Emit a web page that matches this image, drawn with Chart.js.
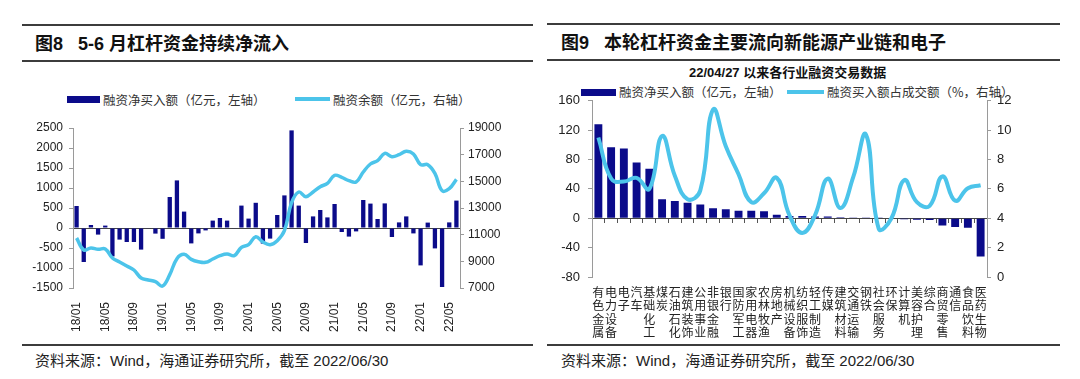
<!DOCTYPE html>
<html><head><meta charset="utf-8">
<script src="https://cdn.jsdelivr.net/npm/chart.js@4.4.1/dist/chart.umd.min.js"></script>
<style>
body{margin:0;width:1080px;height:379px;background:#fff;position:relative;overflow:hidden;font-family:"Liberation Sans","Noto Sans CJK SC",sans-serif;}
.hr{position:absolute;height:2px;background:#3c3c3c;}
.title{position:absolute;font-size:18px;line-height:18px;font-weight:bold;color:#111;white-space:nowrap;font-family:"Liberation Sans","Noto Sans CJK SC",sans-serif;}
.leg{position:absolute;font-size:12.5px;line-height:14px;color:#333;white-space:nowrap;font-family:"Noto Sans CJK SC",sans-serif;}
.sw{position:absolute;}
.src{position:absolute;font-size:15px;line-height:18px;color:#222;white-space:nowrap;font-family:"Liberation Sans","Noto Sans CJK SC",sans-serif;}
.sub{position:absolute;font-size:13px;line-height:16px;font-weight:bold;color:#111;white-space:nowrap;font-family:"Liberation Sans","Noto Sans CJK SC",sans-serif;}
canvas{position:absolute;}
</style></head>
<body>
<div class="hr" style="left:22px;width:511px;top:24px;"></div>
<div class="title" style="left:35px;top:35px;">图8&nbsp;&nbsp;&nbsp;5-6 月杠杆资金持续净流入</div>
<div class="hr" style="left:22px;width:511px;top:60px;"></div>
<div class="sw" style="left:67px;top:96px;width:33px;height:7px;background:#0b0b8a;"></div>
<div class="leg" style="left:103px;top:93px;">融资净买入额（亿元，左轴）</div>
<div class="sw" style="left:295px;top:97px;width:35px;height:4px;background:#4cc4ea;"></div>
<div class="leg" style="left:333px;top:93px;">融资余额（亿元，右轴）</div>
<div class="hr" style="left:22px;width:511px;top:344px;"></div>
<div class="src" style="left:35px;top:352px;">资料来源：Wind，海通证券研究所，截至 2022/06/30</div>

<div class="hr" style="left:547px;width:513px;top:23px;"></div>
<div class="title" style="left:561px;top:34px;">图9&nbsp;&nbsp;&nbsp;本轮杠杆资金主要流向新能源产业链和电子</div>
<div class="hr" style="left:547px;width:513px;top:59px;"></div>
<div class="sub" style="left:689px;top:65px;">22/04/27 以来各行业融资交易数据</div>
<div class="sw" style="left:581px;top:89px;width:35px;height:7px;background:#0b0b8a;"></div>
<div class="leg" style="left:619px;top:85px;">融资净买入额（亿元，左轴）</div>
<div class="sw" style="left:787px;top:90px;width:37px;height:4px;background:#4cc4ea;"></div>
<div class="leg" style="left:827px;top:85px;">融资买入额占成交额（%，右轴）</div>
<div class="hr" style="left:547px;width:513px;top:344px;"></div>
<div class="src" style="left:561px;top:352px;">资料来源：Wind，海通证券研究所，截至 2022/06/30</div>

<canvas id="c1" width="540" height="240" style="left:0;top:110px;"></canvas>
<canvas id="c2" width="540" height="255" style="left:540px;top:85px;"></canvas>
<script>
// ---- Chart 1 data ----
const months = ['18/01','18/02','18/03','18/04','18/05','18/06','18/07','18/08','18/09','18/10','18/11','18/12',
 '19/01','19/02','19/03','19/04','19/05','19/06','19/07','19/08','19/09','19/10','19/11','19/12',
 '20/01','20/02','20/03','20/04','20/05','20/06','20/07','20/08','20/09','20/10','20/11','20/12',
 '21/01','21/02','21/03','21/04','21/05','21/06','21/07','21/08','21/09','21/10','21/11','21/12',
 '22/01','22/02','22/03','22/04','22/05','22/06'];
const netBuy = [550,-850,75,-165,60,-710,-290,-350,-350,-540,-15,-140,
 -270,775,1190,410,-385,-135,-60,185,250,185,-15,560,
 235,630,-390,-265,325,815,2440,560,-375,290,450,265,
 600,-100,-215,-85,700,610,225,615,-225,140,290,-135,
 -935,135,-510,-1475,140,685];
const balance = [10750,9850,10000,9900,9925,9250,8950,8650,8350,7750,7600,7475,
 7150,8000,9200,9525,9150,8975,8925,9175,9425,9550,9425,10050,
 10250,10850,10450,10250,10550,11300,13400,14200,13850,14200,14600,14850,
 15450,15300,15050,14950,15700,16300,16550,17100,16850,17000,17250,17050,
 16250,16250,15600,14300,14450,15150];

// ---- Chart 2 data ----
const industries = [['有','色','金','属'],['电','力','设','备'],['电','子'],['汽','车'],['基','础','化','工'],['煤','炭'],
 ['石','油','石','化'],['建','筑','装','饰'],['公','用','事','业'],['非','银','金','融'],['银','行'],['国','防','军','工'],
 ['家','用','电','器'],['农','林','牧','渔'],['房','地','产'],['机','械','设','备'],['纺','织','服','饰'],['轻','工','制','造'],
 ['传','媒'],['建','筑','材','料'],['交','通','运','输'],['钢','铁'],['社','会','服','务'],['环','保'],['计','算','机'],
 ['美','容','护','理'],['综','合'],['商','贸','零','售'],['通','信'],['食','品','饮','料'],['医','药','生','物']];
const netBuyInd = [128,96.6,95,76,67.5,26,23.6,21,18.6,13.6,12.2,10.4,10.4,9.5,4.8,3.2,3.2,2.3,2.3,1.5,1,0.5,0.2,-0.5,-1.2,-2,-2.5,-10,-12,-13,-52];
const buyRatio = [9.5,6.7,6.5,6.75,6.0,9.6,6.9,5.3,5.9,11.4,8.9,7.0,5.1,5.7,6.75,4.2,3.0,4.2,6.7,4.7,6.8,9.7,3.3,4.0,6.6,5.1,4.85,6.85,5.2,6.05,6.25];

const NAVY = '#0b0b8a', CYAN = '#4cc4ea', AX = '#9a9a9a';
const numFont = {family:'"Liberation Sans", Arial, sans-serif', size:12};
const plain = function(v){ return String(v); };

new Chart(document.getElementById('c1'), {
  type:'bar',
  data:{labels:months, datasets:[
    {type:'line', label:'融资余额（亿元，右轴）', data:balance, yAxisID:'y1', borderColor:CYAN, borderWidth:3.5,
     pointRadius:0, tension:0.4, order:0},
    {type:'bar', label:'融资净买入额（亿元，左轴）', data:netBuy, yAxisID:'y', backgroundColor:NAVY,
     barPercentage:0.6, categoryPercentage:1, order:1}
  ]},
  options:{responsive:false, animation:false, devicePixelRatio:1,
    layout:{padding:{top:18,left:0,right:0,bottom:0}},
    plugins:{legend:{display:false}, tooltip:{enabled:false}},
    scales:{
      x:{grid:{display:false}, border:{display:false},
         ticks:{autoSkip:false, minRotation:90, maxRotation:90, padding:6, font:numFont, color:'#222',
           callback:function(v,i){return i%4===0 ? this.getLabelForValue(v) : '';}},
         afterFit:function(s){s.height=62;}},
      x2:{axis:'x', position:{y:0}, grid:{display:true, drawOnChartArea:false, drawTicks:false},
          border:{display:true, color:'#444', width:1}, ticks:{display:false}},
      y:{position:'left', min:-1500, max:2500,
         ticks:{stepSize:500, font:numFont, color:'#222', padding:6, callback:plain},
         grid:{drawOnChartArea:false, tickLength:4, color:AX}, border:{color:AX},
         afterFit:function(s){s.width=73;}},
      y1:{position:'right', min:7000, max:19000,
         ticks:{stepSize:2000, font:numFont, color:'#222', padding:4, callback:plain},
         grid:{drawOnChartArea:false, tickLength:4, color:AX}, border:{color:AX},
         afterFit:function(s){s.width=80;}}
    }}
});

new Chart(document.getElementById('c2'), {
  type:'bar',
  data:{labels:industries, datasets:[
    {type:'line', label:'融资买入额占成交额（%，右轴）', data:buyRatio, yAxisID:'y1', borderColor:CYAN, borderWidth:4,
     pointRadius:0, tension:0.45, order:0},
    {type:'bar', label:'融资净买入额（亿元，左轴）', data:netBuyInd, yAxisID:'y', backgroundColor:NAVY,
     barPercentage:0.62, categoryPercentage:1, order:1}
  ]},
  options:{responsive:false, animation:false, devicePixelRatio:1,
    layout:{padding:{top:15,left:0,right:0,bottom:0}},
    plugins:{legend:{display:false}, tooltip:{enabled:false}},
    scales:{
      x:{grid:{display:false}, border:{display:false},
         ticks:{autoSkip:false, maxRotation:0, minRotation:0, padding:1,
           font:{family:'"Noto Sans CJK SC", sans-serif', size:12, lineHeight:1.1}, color:'#222'},
         afterFit:function(s){s.height=63;}},
      x2:{axis:'x', position:{y:0}, grid:{display:true, drawOnChartArea:false, drawTicks:true, tickLength:4, color:'#555'},
          border:{display:true, color:'#444', width:1}, ticks:{display:false}},
      y:{position:'left', min:-80, max:160,
         ticks:{stepSize:40, font:{family:'"Liberation Sans", Arial, sans-serif', size:13}, color:'#222', padding:8, callback:plain},
         grid:{drawOnChartArea:false, tickLength:4, color:AX}, border:{color:AX},
         afterFit:function(s){s.width=52;}},
      y1:{position:'right', min:0, max:12,
         ticks:{stepSize:2, font:{family:'"Liberation Sans", Arial, sans-serif', size:13}, color:'#222', padding:6, callback:plain},
         grid:{drawOnChartArea:false, tickLength:4, color:AX}, border:{color:AX},
         afterFit:function(s){s.width=93;}}
    }}
});
</script>
</body></html>
